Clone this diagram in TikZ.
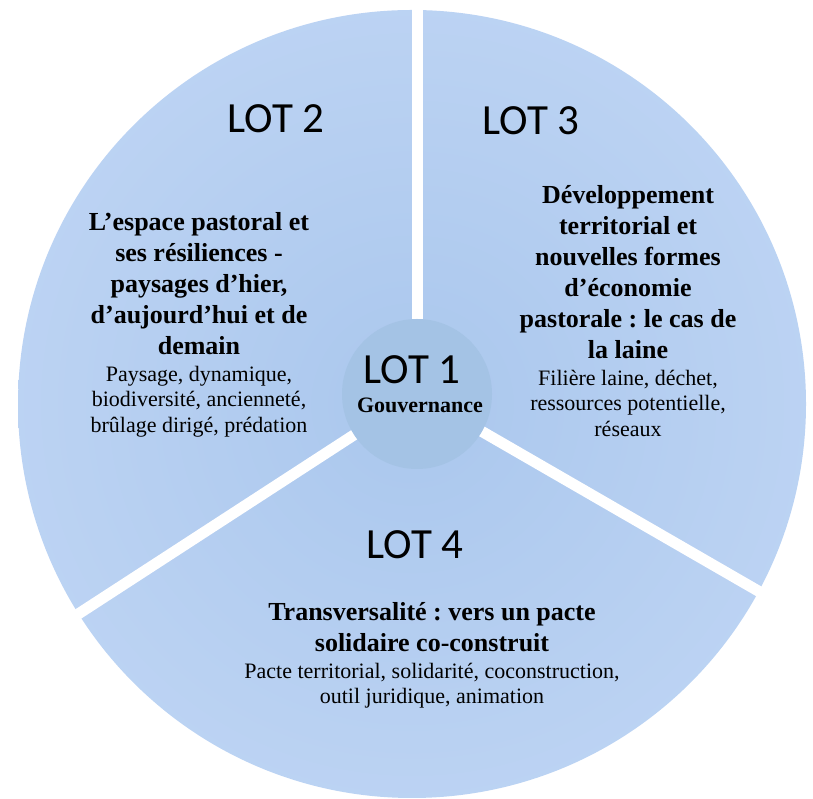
\documentclass[tikz,border=0pt]{standalone}
\usepackage{fontspec}
\setmainfont{Liberation Serif}
\newfontfamily\lotfont{Carlito}
\usetikzlibrary{positioning}
\frenchspacing

\definecolor{pieinner}{RGB}{170,199,237}
\definecolor{piemid}{RGB}{191,213,244}
\definecolor{pieouter}{RGB}{208,225,249}
\definecolor{pieedge}{RGB}{226,236,251}
\definecolor{hubfill}{RGB}{164,195,229}
\pgfdeclareradialshading{piefill}{\pgfpoint{0bp}{0bp}}{color(0bp)=(pieinner); color(30bp)=(piemid); color(47bp)=(pieouter); color(50bp)=(pieedge)}

\begin{document}
\begin{tikzpicture}[x=1pt, y=1pt,
  lot/.style={inner sep=0pt, font=\lotfont\fontsize{43}{46}\selectfont},
  lottitle/.style={align=center, inner sep=0pt, font=\rmfamily\bfseries\fontsize{26}{31}\selectfont},
  lotkeys/.style={align=center, inner sep=0pt, font=\rmfamily\mdseries\fontsize{22}{25.5}\selectfont},
  gap/.style={line width=11pt, white},
  hub/.style={circle, fill=hubfill, minimum size=150pt, inner sep=0pt}
]
\useasboundingbox (0,0) rectangle (813,799);
\coordinate (o) at (412,395);
\coordinate (j) at (417,405);
\shade[shading=piefill] (o) circle[radius=394];

% white cuts between the lots
\coordinate (gtop) at ([yshift=460pt]j);
\coordinate (gleft) at ([shift={(213:470)}]j);
\coordinate (gright) at ([shift={(330:470)}]j);
\draw[gap] (j) -- (gtop);
\draw[gap] (j) -- (gleft);
\draw[gap] (j) -- (gright);

\node[hub] (hub) at (j) {};
\node[lot] (lot1) at (412,429) {LOT 1};
\node[font=\rmfamily\bfseries\fontsize{22}{24}\selectfont, inner sep=0pt, anchor=base] (gouv) at (420,386) {Gouvernance};

% LOT 2
\node[lot] (lot2) at (276,680) {LOT 2};
\node[lottitle, anchor=north] (t2) at (199,587) {L’espace pastoral et\\ses résiliences -\\paysages d’hier,\\d’aujourd’hui et de\\demain};
\node[lotkeys, below=11pt of t2] (k2) {Paysage, dynamique,\\biodiversité, ancienneté,\\brûlage dirigé, prédation};

% LOT 3
\node[lot] (lot3) at (531,678) {LOT 3};
\node[lottitle, anchor=north] (t3) at (628,614) {Développement\\territorial et\\nouvelles formes\\d’économie\\pastorale : le cas de\\la laine};
\node[lotkeys, below=11pt of t3] (k3) {Filière laine, déchet,\\ressources potentielle,\\réseaux};

% LOT 4
\node[lot] (lot4) at (415,254) {LOT 4};
\node[lottitle, anchor=north] (t4) at (432,197) {Transversalité : vers un pacte\\solidaire co-construit};
\node[lotkeys, below=11pt of t4] (k4) {Pacte territorial, solidarité, coconstruction,\\outil juridique, animation};
\end{tikzpicture}
\end{document}
